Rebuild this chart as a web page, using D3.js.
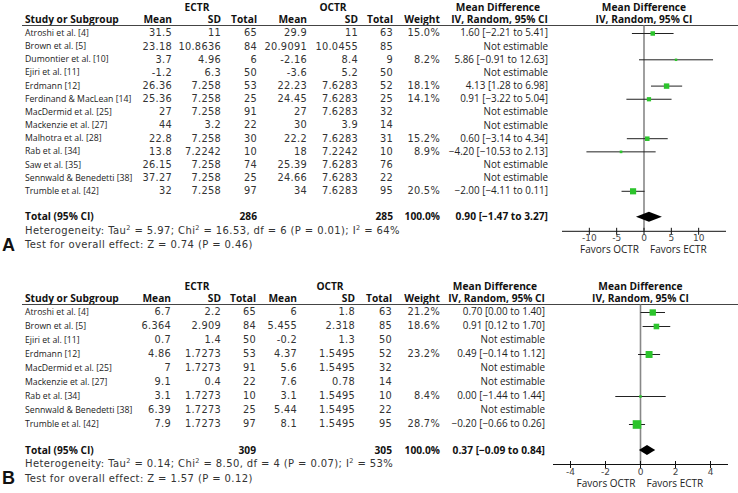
<!DOCTYPE html>
<html>
<head>
<meta charset="utf-8">
<script src="https://d3js.org/d3.v7.min.js"></script>
<style>
  body { margin: 0; background: #fff; }
  text { font-family: "Open Sans", sans-serif; fill: #222; }
  .name { font-size: 8.7px; }
  .num { font-family: "DejaVu Sans", sans-serif; font-size: 9.8px; fill: #333; letter-spacing: 0.3px; }
  .ci { font-size: 9.9px; }
  .hdr { font-weight: bold; font-size: 10.2px; fill: #111; }
  .foot { font-family: "DejaVu Sans", sans-serif; font-size: 10px; fill: #333; letter-spacing: 0.4px; }
  .tick { font-family: "DejaVu Sans", sans-serif; font-size: 9px; fill: #444; }
  .fav { font-size: 10px; fill: #222; }
  .panel { font-family: "Liberation Sans", sans-serif; font-weight: bold; font-size: 18px; fill: #111; }
</style>
</head>
<body>
<svg id="chart" width="738" height="493"></svg>
<script>
// Panel A
const studiesA = ["Atroshi et al. [4]", "Brown et al. [5]", "Dumontier et al. [10]", "Ejiri et al. [11]",
  "Erdmann [12]", "Ferdinand & MacLean [14]", "MacDermid et al. [25]", "Mackenzie et al. [27]",
  "Malhotra et al. [28]", "Rab et al. [34]", "Saw et al. [35]", "Sennwald & Benedetti [38]", "Trumble et al. [42]"];
const ectrMeanA = [31.5, 23.18, 3.7, -1.2, 26.36, 25.36, 27, 44, 22.8, 13.8, 26.15, 37.27, 32];
const ectrSdA = [11, 10.8636, 4.96, 6.3, 7.258, 7.258, 7.258, 3.2, 7.258, 7.2242, 7.258, 7.258, 7.258];
const ectrNA = [65, 84, 6, 50, 53, 25, 91, 22, 30, 10, 74, 25, 97];
const octrMeanA = [29.9, 20.9091, -2.16, -3.6, 22.23, 24.45, 27, 30, 22.2, 18, 25.39, 24.66, 34];
const octrSdA = [11, 10.0455, 8.4, 5.2, 7.6283, 7.6283, 7.6283, 3.9, 7.6283, 7.2242, 7.6283, 7.6283, 7.6283];
const octrNA = [63, 85, 9, 50, 52, 25, 32, 14, 31, 10, 76, 22, 95];
const weightA = [15.0, null, 8.2, null, 18.1, 14.1, null, null, 15.2, 8.9, null, null, 20.5];
const mdA = [1.60, null, 5.86, null, 4.13, 0.91, null, null, 0.60, -4.20, null, null, -2.00];
const loA = [-2.21, null, -0.91, null, 1.28, -3.22, null, null, -3.14, -10.53, null, null, -4.11];
const hiA = [5.41, null, 12.63, null, 6.98, 5.04, null, null, 4.34, 2.13, null, null, 0.11];
const totalA = { nE: 286, nO: 285, md: 0.90, lo: -1.47, hi: 3.27 };
const hetA = { tau2: "5.97", chi2: "16.53", df: 6, p: "0.01", i2: 64, z: "0.74", pz: "0.46" };
const ticksA = [-10, -5, 0, 5, 10];

// Panel B
const studiesB = ["Atroshi et al. [4]", "Brown et al. [5]", "Ejiri et al. [11]", "Erdmann [12]",
  "MacDermid et al. [25]", "Mackenzie et al. [27]", "Rab et al. [34]", "Sennwald & Benedetti [38]", "Trumble et al. [42]"];
const ectrMeanB = [6.7, 6.364, 0.7, 4.86, 7, 9.1, 3.1, 6.39, 7.9];
const ectrSdB = [2.2, 2.909, 1.4, 1.7273, 1.7273, 0.4, 1.7273, 1.7273, 1.7273];
const ectrNB = [65, 84, 50, 53, 91, 22, 10, 25, 97];
const octrMeanB = [6, 5.455, -0.2, 4.37, 5.6, 7.6, 3.1, 5.44, 8.1];
const octrSdB = [1.8, 2.318, 1.3, 1.5495, 1.5495, 0.78, 1.5495, 1.5495, 1.5495];
const octrNB = [63, 85, 50, 52, 32, 14, 10, 22, 95];
const weightB = [21.2, 18.6, null, 23.2, null, null, 8.4, null, 28.7];
const mdB = [0.70, 0.91, null, 0.49, null, null, 0.00, null, -0.20];
const loB = [0.00, 0.12, null, -0.14, null, null, -1.44, null, -0.66];
const hiB = [1.40, 1.70, null, 1.12, null, null, 1.44, null, 0.26];
const totalB = { nE: 309, nO: 305, md: 0.37, lo: -0.09, hi: 0.84 };
const hetB = { tau2: "0.14", chi2: "8.50", df: 4, p: "0.07", i2: 53, z: "1.57", pz: "0.12" };
const ticksB = [-4, -2, 0, 2, 4];

const svg = d3.select("#chart");
const f2 = d3.format(".2f");

function drawPanel(p) {
  const g = svg.append("g");
  const x = d3.scaleLinear().domain(p.domain).range(p.range);
  const rowY = i => p.firstRow + i * p.step;
  const lastY = rowY(p.studies.length - 1);
  const totalY = lastY + 26;
  const axisY = totalY + 14;
  const c = p.cols;
  const subY = p.hdrY + 12.5;

  // headers
  g.append("text").attr("class", "hdr").attr("x", c.ectrMid).attr("y", p.hdrY).attr("dy", "0.35em")
    .attr("text-anchor", "middle").text("ECTR");
  g.append("text").attr("class", "hdr").attr("x", c.octrMid).attr("y", p.hdrY).attr("dy", "0.35em")
    .attr("text-anchor", "middle").text("OCTR");
  g.append("text").attr("class", "hdr").attr("x", c.ci - 50).attr("y", p.hdrY).attr("dy", "0.35em")
    .attr("text-anchor", "middle").text("Mean Difference");
  g.append("text").attr("class", "hdr").attr("x", x(0)).attr("y", p.hdrY).attr("dy", "0.35em")
    .attr("text-anchor", "middle").text("Mean Difference");

  const sub = [["Study or Subgroup", 25, "start"], ["Mean", c.eMean, "end"], ["SD", c.eSd, "end"],
    ["Total", c.eN, "end"], ["Mean", c.oMean, "end"], ["SD", c.oSd, "end"], ["Total", c.oN, "end"],
    ["Weight", c.w, "end"], ["IV, Random, 95% CI", c.ci, "end"], ["IV, Random, 95% CI", x(0), "middle"]];
  g.selectAll(".sub").data(sub).join("text").attr("class", "hdr")
    .attr("x", d => d[1]).attr("y", subY).attr("dy", "0.35em")
    .attr("text-anchor", d => d[2]).text(d => d[0]);

  g.append("line").attr("x1", 22).attr("x2", 738).attr("y1", p.lineY).attr("y2", p.lineY)
    .attr("stroke", "#444").attr("stroke-width", 1);

  // study rows
  const rows = g.selectAll(".row").data(p.studies.map((s, i) => i)).join("g")
    .attr("transform", i => `translate(0,${rowY(i)})`);
  rows.append("text").attr("class", "name").attr("x", 25).attr("dy", "0.35em").text(i => p.studies[i]);
  const numCols = [[p.eMean, c.eMean], [p.eSd, c.eSd], [p.eN, c.eN], [p.oMean, c.oMean], [p.oSd, c.oSd], [p.oN, c.oN]];
  numCols.forEach(([arr, cx]) => {
    rows.append("text").attr("class", "num").attr("x", cx).attr("dy", "0.35em")
      .attr("text-anchor", "end").text(i => String(arr[i]));
  });
  rows.append("text").attr("class", "num").attr("x", c.w).attr("dy", "0.35em").attr("text-anchor", "end")
    .text(i => p.weight[i] == null ? "" : p.weight[i].toFixed(1) + "%");
  rows.append("text").attr("class", "ci").attr("x", c.ci).attr("dy", "0.35em").attr("text-anchor", "end")
    .text(i => p.md[i] == null ? "Not estimable" : `${f2(p.md[i])} [${f2(p.lo[i])} to ${f2(p.hi[i])}]`);

  // zero line
  g.append("line").attr("x1", x(0)).attr("x2", x(0)).attr("y1", p.lineY).attr("y2", axisY)
    .attr("stroke", "#888").attr("stroke-width", 1.6);

  const est = p.studies.map((s, i) => i).filter(i => p.md[i] != null);
  const side = i => Math.max(2, p.weight[i] * 0.3);
  g.selectAll(".cil").data(est).join("line")
    .attr("x1", i => x(p.lo[i])).attr("x2", i => x(p.hi[i]))
    .attr("y1", i => rowY(i) + 0.5).attr("y2", i => rowY(i) + 0.5)
    .attr("stroke", "#222").attr("stroke-width", 1);
  g.selectAll(".sq").data(est).join("rect")
    .attr("x", i => x(p.md[i]) - side(i) / 2)
    .attr("y", i => rowY(i) + 0.5 - side(i) / 2)
    .attr("width", side).attr("height", side)
    .attr("fill", "#2cc42c");

  // total row
  const t = p.total;
  g.append("text").attr("class", "hdr").attr("x", 25).attr("y", totalY).attr("dy", "0.35em").text("Total (95% CI)");
  [[t.nE, c.eN], [t.nO, c.oN], ["100.0%", c.w], [`${f2(t.md)} [${f2(t.lo)} to ${f2(t.hi)}]`, c.ci]].forEach(([v, cx]) => {
    g.append("text").attr("class", "hdr").attr("x", cx).attr("y", totalY).attr("dy", "0.35em")
      .attr("text-anchor", "end").text(v);
  });
  g.append("path")
    .attr("d", `M${x(t.lo)},${totalY} L${x(t.md)},${totalY - 5} L${x(t.hi)},${totalY} L${x(t.md)},${totalY + 5}Z`)
    .attr("fill", "#000");

  // heterogeneity + test
  const h = p.het;
  const het = g.append("text").attr("class", "foot").attr("x", 25).attr("y", totalY + 13.5).attr("dy", "0.35em");
  const parts = [["Heterogeneity: Tau", false], ["2", true], [` = ${h.tau2}; Chi`, false], ["2", true],
    [` = ${h.chi2}, df = ${h.df} (P = ${h.p}); I`, false], ["2", true], [` = ${h.i2}%`, false]];
  parts.forEach(([s, sup]) => {
    const ts = het.append("tspan").text(s);
    if (sup) ts.attr("baseline-shift", "super").attr("font-size", "6.5px");
  });
  g.append("text").attr("class", "foot").attr("x", 25).attr("y", totalY + 28).attr("dy", "0.35em")
    .text(`Test for overall effect: Z = ${h.z} (P = ${h.pz})`);
  g.append("text").attr("class", "panel").attr("x", 2).attr("y", totalY + 34).text(p.label);

  // axis
  g.append("line").attr("x1", p.range[0]).attr("x2", p.range[1]).attr("y1", axisY + 0.5).attr("y2", axisY + 0.5)
    .attr("stroke", "#111");
  g.selectAll(".tk").data(p.ticks).join("line")
    .attr("x1", d => x(d)).attr("x2", d => x(d)).attr("y1", axisY - 3).attr("y2", axisY + 4)
    .attr("stroke", "#111");
  g.selectAll(".tl").data(p.ticks).join("text").attr("class", "tick")
    .attr("x", d => x(d)).attr("y", axisY + 7.5).attr("dy", "0.35em").attr("text-anchor", "middle")
    .text(d => String(d));
  g.append("text").attr("class", "fav").attr("x", x(0) - 5).attr("y", axisY + 19).attr("dy", "0.35em")
    .attr("text-anchor", "end").text("Favors OCTR");
  g.append("text").attr("class", "fav").attr("x", x(0) + 6).attr("y", axisY + 19).attr("dy", "0.35em")
    .attr("text-anchor", "start").text("Favors ECTR");
}

drawPanel({
  label: "A", studies: studiesA, eMean: ectrMeanA, eSd: ectrSdA, eN: ectrNA,
  oMean: octrMeanA, oSd: octrSdA, oN: octrNA, weight: weightA, md: mdA, lo: loA, hi: hiA,
  total: totalA, het: hetA, ticks: ticksA, domain: [-15, 15], range: [562, 726],
  hdrY: 7, lineY: 25.5, firstRow: 33, step: 13.15,
  cols: { ectrMid: 197, octrMid: 333, eMean: 172, eSd: 221, eN: 257, oMean: 307, oSd: 358, oN: 393, w: 440, ci: 548 }
});

drawPanel({
  label: "B", studies: studiesB, eMean: ectrMeanB, eSd: ectrSdB, eN: ectrNB,
  oMean: octrMeanB, oSd: octrSdB, oN: octrNB, weight: weightB, md: mdB, lo: loB, hi: hiB,
  total: totalB, het: hetB, ticks: ticksB, domain: [-5, 5], range: [553, 728],
  hdrY: 286, lineY: 304.5, firstRow: 312, step: 14,
  cols: { ectrMid: 197, octrMid: 330, eMean: 171, eSd: 221, eN: 256, oMean: 297, oSd: 355, oN: 392, w: 440, ci: 545 }
});
</script>
</body>
</html>
